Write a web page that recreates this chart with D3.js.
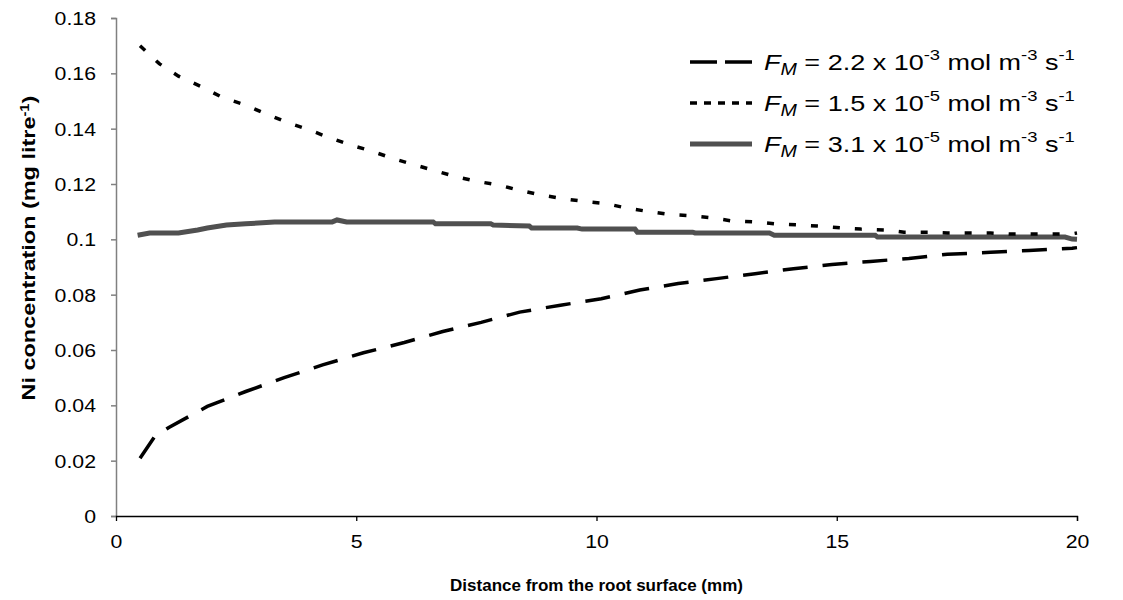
<!DOCTYPE html>
<html><head><meta charset="utf-8">
<script src="https://cdn.jsdelivr.net/npm/d3@7"></script>
<style>
body{margin:0;background:#fff;}
text{font-family:"Liberation Sans",Arial,sans-serif;}
</style></head>
<body><svg id="c" width="1123" height="600"></svg>
<script>
// Series A: F_M = 2.2e-3 (long dashes)
const xA = [0.5,0.8,1.1,1.9,2.7,3.5,4.3,5.15,6.0,6.8,7.6,8.4,9.25,10.1,10.9,11.7,12.5,13.3,14.1,14.9,15.7,16.5,17.3,18.2,19.0,19.9,20];
const yA = [0.0209,0.0286,0.032,0.0396,0.045,0.050,0.0546,0.059,0.0627,0.0667,0.070,0.0737,0.0762,0.0785,0.0817,0.084,0.0858,0.0876,0.0894,0.0909,0.092,0.0931,0.0946,0.0953,0.096,0.0968,0.097];
// Series B: F_M = 1.5e-5 (short dashes)
const xB = [0.5,0.9,1.3,1.8,2.2,2.7,3.1,3.6,4.0,4.4,4.9,5.3,5.8,6.2,6.6,7.1,7.5,8.0,8.4,8.85,9.3,9.8,10.2,10.6,11.1,11.5,12.0,12.4,12.8,13.3,13.7,14.2,14.6,15.1,15.5,16.0,16.4,16.9,17.3,17.7,18.2,18.6,19.1,19.5,19.9,20];
const yB = [0.170,0.1635,0.159,0.155,0.1514,0.1485,0.1455,0.142,0.1397,0.137,0.134,0.132,0.129,0.127,0.125,0.1225,0.121,0.1195,0.1177,0.116,0.1147,0.1136,0.1129,0.1114,0.110,0.109,0.1085,0.1078,0.1067,0.1063,0.1056,0.1052,0.1048,0.1041,0.1037,0.1034,0.1026,0.1026,0.1023,0.1023,0.1023,0.1019,0.1019,0.1019,0.102,0.1023];
// Series C: F_M = 3.1e-5 (solid grey)
const xC = [0.45,0.7,1.3,1.7,1.9,2.3,2.7,3.3,4.5,4.6,4.8,6.6,6.65,7.8,7.85,8.6,8.65,9.6,9.7,10.8,10.85,12.0,12.05,13.6,13.7,15.8,15.85,19.75,19.9,20];
const yC = [0.1015,0.1023,0.1023,0.1034,0.1041,0.1052,0.1056,0.1063,0.1063,0.1070,0.1063,0.1063,0.1056,0.1056,0.1052,0.1048,0.1041,0.1041,0.1037,0.1037,0.1026,0.1026,0.1023,0.1023,0.1015,0.1015,0.1008,0.1008,0.1001,0.100];

const xTicks = [0,5,10,15,20];
const yTicks = [0,0.02,0.04,0.06,0.08,0.1,0.12,0.14,0.16,0.18];
const xTitle = "Distance from the root surface (mm)";
const legendMant = ["2.2","1.5","3.1"];
const legendExp = ["-3","-5","-5"];

const svg = d3.select("#c");
const L=116, R=1077, T=18, B=516;
const x = d3.scaleLinear().domain([0,20]).range([L,R]);
const y = d3.scaleLinear().domain([0,0.18]).range([B,T]);
const SX = 1.12; // horizontal stretch of text glyphs

function stretch(sel, sx, ax){
  sel.attr("transform",`translate(${ax},0) scale(${sx},1) translate(${-ax},0)`);
}
function fitWidth(sel, w, ax){
  const cur = sel.node().getBBox().width;
  stretch(sel, w/cur, ax);
}

// axes
const gy = svg.append("g").attr("transform",`translate(${L},0)`)
  .call(d3.axisLeft(y).tickValues(yTicks).tickSize(5).tickPadding(8).tickFormat(d=>String(+d.toFixed(2))));
gy.select(".domain").attr("stroke","#808080").attr("stroke-width",1.5);
gy.selectAll(".tick line").attr("stroke","#808080").attr("stroke-width",1.5);
gy.selectAll(".tick text").attr("font-size",19).attr("fill","#000").attr("font-family","Liberation Sans, Arial, sans-serif").attr("x",-10/SX).attr("dy","0.35em")
  .attr("transform",`translate(-10,0) scale(${SX},1)`);

const gx = svg.append("g").attr("transform",`translate(0,${B})`)
  .call(d3.axisBottom(x).tickValues(xTicks).tickSize(5).tickPadding(14).tickFormat(d3.format("d")));
gx.select(".domain").attr("stroke","#000").attr("stroke-width",1.3);
gx.selectAll(".tick line").attr("stroke","#000").attr("stroke-width",1.3);
gx.selectAll(".tick text").attr("font-size",19).attr("fill","#000").attr("font-family","Liberation Sans, Arial, sans-serif")
  .attr("transform",`scale(${SX},1)`);
gx.select(".tick:first-of-type line").remove();

// lines
const line = (xs,ys)=> d3.line().x((d,i)=>x(xs[i])).y((d,i)=>y(ys[i]))(ys);
svg.append("path").attr("d",line(xC,yC)).attr("fill","none").attr("stroke","#505050").attr("stroke-width",5);
svg.append("path").attr("d",line(xB,yB)).attr("fill","none").attr("stroke","#000").attr("stroke-width",3.5).attr("stroke-dasharray","7,15");
svg.append("path").attr("d",line(xA,yA)).attr("fill","none").attr("stroke","#000").attr("stroke-width",3.5).attr("stroke-dasharray","25,15");

// titles
svg.append("text").attr("x",(L+R)/2).attr("y",591).attr("text-anchor","middle")
  .attr("font-size",17).attr("font-weight","bold").text(xTitle);

const yt = svg.append("text").attr("text-anchor","middle")
  .attr("font-size",19).attr("font-weight","bold");
yt.append("tspan").text("Ni concentration (mg litre");
yt.append("tspan").attr("baseline-shift","super").attr("font-size",12).text("-1");
yt.append("tspan").text(")");
{
  const w = yt.node().getBBox().width;
  yt.attr("transform",`translate(35,248) rotate(-90) scale(${305/w},1)`);
}

// legend
const styles = [
  {stroke:"#000",w:3.5,dash:"27,8"},
  {stroke:"#000",w:3.5,dash:"7,7"},
  {stroke:"#505050",w:5,dash:null}
];
const rowsY = [62,103,144];
styles.forEach((s,i)=>{
  const ly = rowsY[i];
  const p = svg.append("line").attr("x1",690).attr("x2",752).attr("y1",ly).attr("y2",ly)
    .attr("stroke",s.stroke).attr("stroke-width",s.w);
  if(s.dash) p.attr("stroke-dasharray",s.dash);
  const t = svg.append("text").attr("x",764).attr("y",ly+8).attr("font-size",22);
  t.append("tspan").attr("font-style","italic").text("F");
  t.append("tspan").attr("font-style","italic").attr("font-size",16).attr("dy",5).text("M");
  t.append("tspan").attr("dy",-5).text(" = "+legendMant[i]+" x 10");
  t.append("tspan").attr("font-size",15).attr("dy",-10).text(legendExp[i]);
  t.append("tspan").attr("dy",10).text(" mol m");
  t.append("tspan").attr("font-size",15).attr("dy",-10).text("-3");
  t.append("tspan").attr("dy",10).text(" s");
  t.append("tspan").attr("font-size",15).attr("dy",-10).text("-1");
  fitWidth(t, 311, 764);
});
</script></body></html>
